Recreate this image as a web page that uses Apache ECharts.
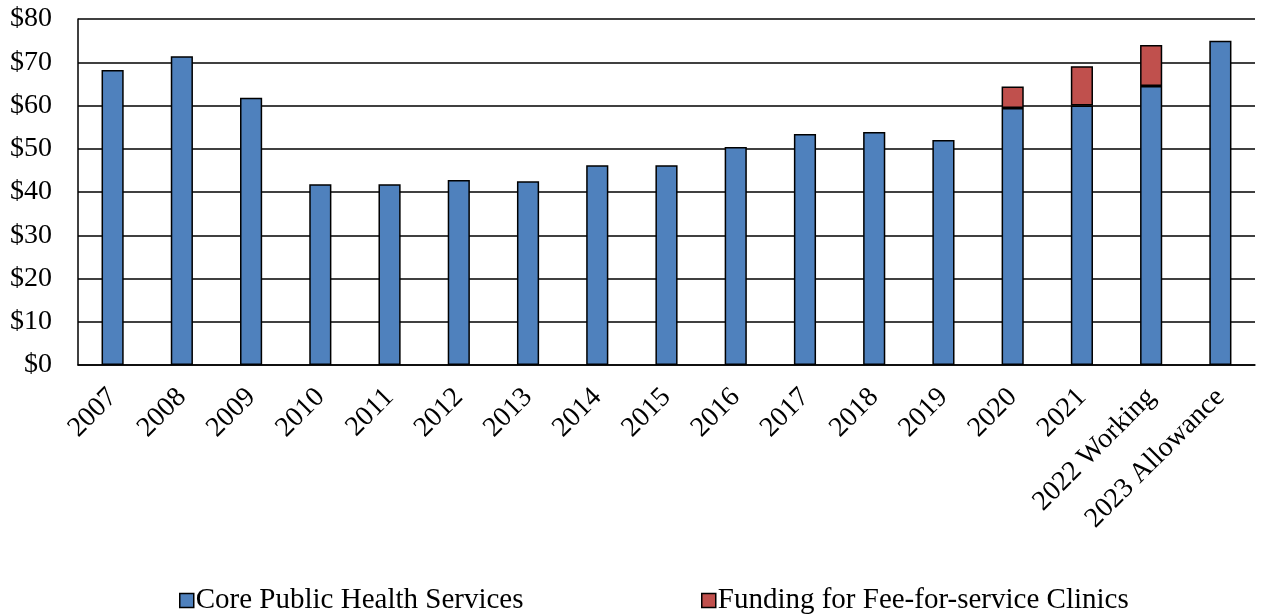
<!DOCTYPE html>
<html>
<head>
<meta charset="utf-8">
<script src="https://cdn.jsdelivr.net/npm/echarts@6/dist/echarts.min.js"></script>
<style>
  html, body { margin: 0; padding: 0; background: #fff; }
  #chart { width: 1265px; height: 616px; }
</style>
</head>
<body>
<div id="chart"></div>
<script>
var categories = ['2007', '2008', '2009', '2010', '2011', '2012', '2013', '2014', '2015',
  '2016', '2017', '2018', '2019', '2020', '2021', '2022 Working', '2023 Allowance'];
var coreServices = [68.2, 71.4, 61.8, 41.8, 41.8, 42.8, 42.5, 46.2, 46.2,
  50.4, 53.4, 53.9, 52.0, 59.4, 60.0, 64.5, 75.0];
var feeClinics = [0, 0, 0, 0, 0, 0, 0, 0, 0, 0, 0, 0, 0, 5.0, 9.1, 9.5, 0];
var yTicks = [0, 10, 20, 30, 40, 50, 60, 70, 80];

var font = '"Liberation Serif", "Times New Roman", serif';
var myChart = echarts.init(document.getElementById('chart'));

myChart.setOption({
  animation: false,
  textStyle: { fontFamily: font },
  grid: { left: 78, right: 10, top: 19, bottom: 251, containLabel: false },
  legend: [
    {
      data: ['Core Public Health Services'],
      icon: 'rect',
      left: 174, top: 581,
      itemWidth: 14, itemHeight: 14, itemGap: 6,
      itemStyle: { borderColor: '#000', borderWidth: 1.5 },
      textStyle: { fontFamily: font, fontSize: 29, color: '#000', padding: [0, 0, 0, -3] }
    },
    {
      data: ['Funding for Fee-for-service Clinics'],
      icon: 'rect',
      left: 696, top: 581,
      itemWidth: 14, itemHeight: 14, itemGap: 6,
      itemStyle: { borderColor: '#000', borderWidth: 1.5 },
      textStyle: { fontFamily: font, fontSize: 29, color: '#000', padding: [0, 0, 0, -3] }
    }
  ],
  xAxis: {
    type: 'category',
    data: categories,
    axisLine: { show: true, lineStyle: { color: '#000', width: 1.5 } },
    axisTick: { show: false },
    axisLabel: {
      rotate: 45,
      margin: 28,
      interval: 0,
      fontFamily: font,
      fontSize: 28,
      color: '#000'
    }
  },
  yAxis: {
    type: 'value',
    min: yTicks[0],
    max: yTicks[yTicks.length - 1],
    interval: 10,
    axisLine: { show: true, lineStyle: { color: '#000', width: 1.5 } },
    axisTick: { show: false },
    splitLine: { show: true, lineStyle: { color: '#000', width: 1.5 } },
    axisLabel: {
      formatter: '${value}',
      margin: 26,
      fontFamily: font,
      fontSize: 28,
      color: '#000'
    }
  },
  series: [
    {
      name: 'Core Public Health Services',
      type: 'bar',
      stack: 'total',
      data: coreServices,
      barWidth: '32%',
      itemStyle: { color: '#4f81bd', borderColor: '#000', borderWidth: 1.5 }
    },
    {
      name: 'Funding for Fee-for-service Clinics',
      type: 'bar',
      stack: 'total',
      data: feeClinics.map(function (v) { return v === 0 ? null : v; }),
      barWidth: '32%',
      itemStyle: { color: '#c0504d', borderColor: '#000', borderWidth: 1.5 }
    }
  ]
});
</script>
</body>
</html>
